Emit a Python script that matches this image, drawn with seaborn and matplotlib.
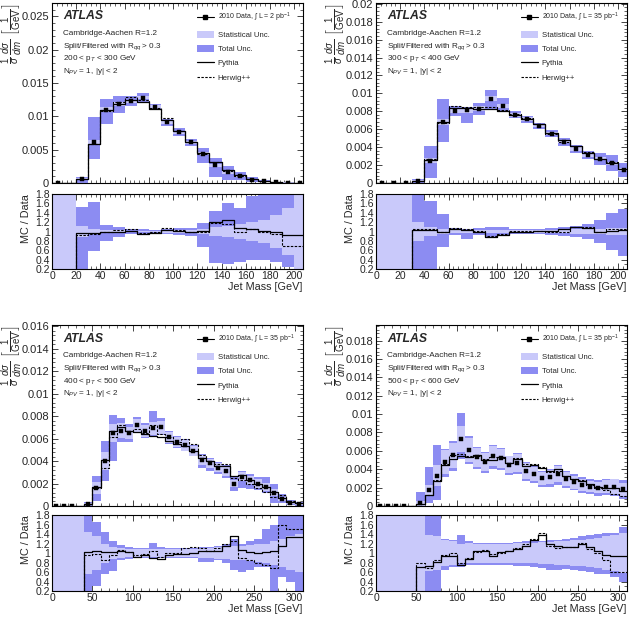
import numpy as np
import matplotlib
matplotlib.use("Agg")
import matplotlib.pyplot as plt
import seaborn as sns
from matplotlib.lines import Line2D
from matplotlib.patches import Patch
from matplotlib.ticker import MultipleLocator, AutoMinorLocator, FormatStrFormatter

nan = np.nan

# ---- 200 < pT < 300 GeV (bins of 10 GeV, 0-210) ----
data_1 = [0, nan, 0.0006, 0.0061, 0.011, 0.01185, 0.01225, 0.0128, 0.0114, 0.0091, 0.0076,
          0.0061, 0.0044, 0.00265, 0.0016, 0.0011, 0.0005, 0.00025, 0.0001, 0.00005, 0.00002]
pythia_1 = [0, 0, 0.97, 0.97, 1.0, 1.0, 1.02, 0.95, 0.97, 1.03, 1.02, 1.0, 1.02, 1.2, 1.25,
            1.08, 1.05, 1.02, 1.0, 0.93, 0.93]
herwig_1 = [0, 0, 0.93, 0.95, 0.98, 1.03, 1.05, 0.97, 0.98, 1.07, 1.03, 1.0, 1.0, 1.18, 1.15,
            1.0, 1.05, 1.0, 0.95, 0.7, 0.7]
stat_1 = [9, 9, 0.12, 0.05, 0.03, 0.03, 0.02, 0.02, 0.02, 0.03, 0.03, 0.03, 0.05, 0.1, 0.12,
          0.15, 0.2, 0.25, 0.35, 0.5, 0.8]
totup_1 = [9, 9, 0.52, 0.62, 0.14, 0.1, 0.06, 0.05, 0.04, 0.06, 0.08, 0.08, 0.18, 0.44, 0.6,
           0.5, 0.75, 0.8, 0.8, 0.8, 0.8]
totdn_1 = [9, 9, 0.9, 0.42, 0.2, 0.12, 0.06, 0.05, 0.04, 0.06, 0.08, 0.1, 0.32, 0.67, 0.7,
           0.65, 0.6, 0.6, 0.65, 0.75, 0.8]

# ---- 300 < pT < 400 GeV ----
data_2 = [0, 0, 0, 0.00026, 0.0025, 0.0068, 0.0080, 0.0081, 0.0083, 0.0094, 0.0086, 0.0076,
          0.0071, 0.0064, 0.0055, 0.0046, 0.0038, 0.0031, 0.0027, 0.0022, 0.0015]
pythia_2 = [0, 0, 0, 1.03, 1.03, 1.0, 1.05, 1.03, 1.0, 0.88, 0.93, 1.0, 1.0, 1.02, 1.02, 1.05,
            1.1, 1.07, 1.0, 1.02, 1.03]
herwig_2 = [0, 0, 0, 1.06, 1.05, 0.98, 1.07, 1.05, 1.02, 0.9, 0.95, 1.02, 1.02, 1.02, 1.0, 1.0,
            1.1, 1.1, 1.0, 1.05, 1.05]
stat_2 = [9, 9, 9, 0.2, 0.1, 0.05, 0.03, 0.03, 0.03, 0.03, 0.03, 0.03, 0.03, 0.03, 0.03, 0.04,
          0.05, 0.05, 0.06, 0.07, 0.08]
totup_2 = [9, 9, 9, 0.8, 0.65, 0.38, 0.07, 0.05, 0.08, 0.1, 0.1, 0.05, 0.05, 0.05, 0.07, 0.1,
           0.12, 0.15, 0.25, 0.4, 0.47]
totdn_2 = [9, 9, 9, 0.8, 0.8, 0.32, 0.07, 0.17, 0.08, 0.12, 0.08, 0.05, 0.05, 0.05, 0.07, 0.1,
           0.12, 0.15, 0.25, 0.4, 0.52]

# ---- 400 < pT < 500 GeV (0-310) ----
data_3 = [0, 0, 0, nan, 0.0002, 0.0016, 0.0040, 0.0065, 0.0067, 0.0065, 0.0072, 0.0067, 0.0069,
          0.0070, 0.0061, 0.0057, 0.0054, 0.0049, 0.0041, 0.0038, 0.0034, 0.0031, 0.0020, 0.0026,
          0.0023, 0.0020, 0.0017, 0.0012, 0.0006, 0.0003, 0.0002]
pythia_3 = [0, 0, 0, 0, 1.03, 1.05, 1.02, 1.03, 1.05, 1.02, 0.92, 0.95, 0.9, 0.88, 0.95, 0.97,
            0.98, 1.0, 1.05, 1.05, 1.05, 1.15, 1.35, 1.07, 1.02, 1.0, 1.02, 1.05, 1.15, 1.33, 1.33]
herwig_3 = [0, 0, 0, 0, 0.95, 0.98, 0.85, 0.95, 1.07, 1.02, 0.95, 0.97, 1.05, 0.92, 1.0, 1.0,
            1.1, 1.12, 1.1, 1.05, 1.1, 1.2, 1.25, 0.9, 0.85, 0.8, 0.75, 0.68, 1.6, 1.5, 1.5]
stat_3 = [9, 9, 9, 9, 0.45, 0.35, 0.2, 0.12, 0.1, 0.08, 0.08, 0.08, 0.08, 0.08, 0.08, 0.08,
          0.09, 0.09, 0.1, 0.1, 0.12, 0.13, 0.15, 0.15, 0.16, 0.18, 0.2, 0.25, 0.3, 0.35, 0.4]
totup_3 = [9, 9, 9, 9, 0.8, 0.65, 0.45, 0.25, 0.17, 0.12, 0.1, 0.1, 0.22, 0.12, 0.1, 0.1, 0.1,
           0.1, 0.12, 0.13, 0.15, 0.18, 0.3, 0.2, 0.25, 0.3, 0.5, 0.6, 0.8, 0.8, 0.8]
totdn_3 = [9, 9, 9, 9, 0.8, 0.7, 0.45, 0.38, 0.15, 0.12, 0.1, 0.1, 0.1, 0.1, 0.1, 0.1, 0.1,
           0.1, 0.18, 0.18, 0.15, 0.2, 0.35, 0.4, 0.35, 0.3, 0.3, 0.8, 0.5, 0.6, 0.8]

# ---- 500 < pT < 600 GeV ----
data_4 = [0, 0, 0, 0, nan, 0.0003, 0.0017, 0.0033, 0.0048, 0.0055, 0.0073, 0.0061, 0.0053,
          0.0048, 0.0054, 0.0052, 0.0045, 0.0047, 0.0038, 0.0035, 0.0030, 0.0032, 0.0035, 0.0029,
          0.0026, 0.0023, 0.0021, 0.0020, 0.0021, 0.0021, 0.0018]
pythia_4 = [0, 0, 0, 0, 0, 0.7, 0.72, 0.82, 0.93, 0.93, 0.75, 0.87, 1.05, 1.05, 0.93, 1.02,
            1.05, 1.08, 1.15, 1.27, 1.38, 1.2, 1.15, 1.13, 1.13, 1.18, 1.12, 1.05, 0.95, 0.93, 0.93]
herwig_4 = [0, 0, 0, 0, 0, 0.78, 0.68, 0.85, 0.95, 1.0, 0.78, 0.9, 1.03, 1.07, 0.98, 1.0,
            1.05, 1.1, 1.2, 1.3, 1.43, 1.15, 1.1, 1.12, 1.12, 1.22, 1.08, 1.0, 0.85, 0.6, 0.6]
stat_4 = [9, 9, 9, 9, 9, 0.85, 0.37, 0.35, 0.27, 0.25, 0.2, 0.22, 0.2, 0.2, 0.2, 0.2, 0.2,
          0.21, 0.22, 0.22, 0.23, 0.24, 0.25, 0.26, 0.27, 0.28, 0.3, 0.32, 0.35, 0.38, 0.42]
totup_4 = [9, 9, 9, 9, 9, 4.0, 1.5, 1.0, 0.3, 0.28, 0.38, 0.25, 0.22, 0.22, 0.22, 0.22, 0.22,
           0.23, 0.25, 0.25, 0.26, 0.27, 0.28, 0.3, 0.32, 0.35, 0.38, 0.4, 0.42, 0.42, 0.55]
totdn_4 = [9, 9, 9, 9, 9, 0.85, 0.8, 0.8, 0.35, 0.3, 0.3, 0.25, 0.25, 0.25, 0.25, 0.25, 0.25,
           0.27, 0.28, 0.3, 0.32, 0.35, 0.35, 0.33, 0.35, 0.38, 0.4, 0.45, 0.45, 0.5, 0.6]

pt_labels = ["200 < p$_{T}$ < 300 GeV", "300 < p$_{T}$ < 400 GeV",
             "400 < p$_{T}$ < 500 GeV", "500 < p$_{T}$ < 600 GeV"]
lumi_labels = ["2", "35", "35", "35"]

STAT_COL = "#c9c9fa"
TOT_COL = "#8c8cf2"
HERWIG_LS = (0, (2.2, 1.3))

sns.set_style("ticks")
plt.rcParams.update({
    "xtick.direction": "in", "ytick.direction": "in",
    "xtick.top": True, "ytick.right": True,
    "xtick.major.size": 4, "ytick.major.size": 4,
    "xtick.minor.size": 2, "ytick.minor.size": 2,
    "xtick.major.width": 0.6, "ytick.major.width": 0.6,
    "xtick.minor.width": 0.5, "ytick.minor.width": 0.5,
    "axes.linewidth": 0.8, "axes.edgecolor": "black",
    "mathtext.fontset": "custom",
    "mathtext.rm": "Liberation Sans",
    "mathtext.it": "Liberation Sans:italic",
    "mathtext.bf": "Liberation Sans:bold",
})
plt.rcParams["font.family"] = ["Liberation Sans", "DejaVu Sans"]


def steps(ax, edges, vals, **kw):
    y = np.append(vals, vals[-1])
    sns.lineplot(x=edges, y=y, drawstyle="steps-post", estimator=None, sort=False,
                 ax=ax, legend=False, **kw)


def draw_panel(ax, rax, data, pythia, herwig, stat, totup, totdn, xmax, ymax, ymajor,
               xmajor, pt_label, lumi):
    data = np.array(data, dtype=float)
    pythia = np.array(pythia, dtype=float)
    herwig = np.array(herwig, dtype=float)
    stat = np.array(stat, dtype=float)
    totup = np.array(totup, dtype=float)
    totdn = np.array(totdn, dtype=float)
    nb = len(data)
    edges = np.arange(nb + 1) * 10.0
    centers = edges[:-1] + 5.0
    d0 = np.nan_to_num(data)

    # bandas del panel principal
    lo = np.clip(data * (1 - totdn), 0, None)
    ax.bar(centers, data * (1 + totup) - lo, bottom=lo, width=10, color=TOT_COL, linewidth=0)
    lo = np.clip(data * (1 - stat), 0, None)
    ax.bar(centers, data * (1 + stat) - lo, bottom=lo, width=10, color=STAT_COL, linewidth=0)

    steps(ax, edges, d0 * pythia, color="black", linewidth=0.9)
    steps(ax, edges, d0 * herwig, color="black", linewidth=0.8, linestyle=HERWIG_LS)
    sns.scatterplot(x=centers, y=data, marker="s", s=11, color="black", edgecolor="black",
                    linewidth=0.3, ax=ax, zorder=5)

    ax.set_xlim(0, xmax)
    ax.set_ylim(0, ymax)
    ax.xaxis.set_major_locator(MultipleLocator(xmajor))
    ax.xaxis.set_minor_locator(AutoMinorLocator(5))
    ax.yaxis.set_major_locator(MultipleLocator(ymajor))
    ax.yaxis.set_minor_locator(AutoMinorLocator(5))
    ax.yaxis.set_major_formatter(FormatStrFormatter("%g"))
    ax.tick_params(labelbottom=False, labelsize=8, pad=2)
    ax.set_ylabel(r"$\frac{1}{\sigma}\,\frac{d\sigma}{dm}\ \left[\frac{1}{\mathrm{GeV}}\right]$",
                  fontsize=10, loc="top")
    ax.yaxis.set_label_coords(-0.112, 1.0)

    ax.text(0.045, 0.925, "ATLAS", transform=ax.transAxes, fontsize=8.8, fontweight="bold",
            fontstyle="italic", va="center")
    info = ["Cambridge-Aachen R=1.2", "Split/Filtered with R$_{qq}$ > 0.3", pt_label,
            "N$_{PV}$ = 1, |y| < 2"]
    for i, t in enumerate(info):
        ax.text(0.045, 0.83 - i * 0.07, t, transform=ax.transAxes, fontsize=5.9, va="center")

    handles = [Line2D([], [], color="black", marker="s", markersize=3, linewidth=0.8),
               Patch(facecolor=STAT_COL, linewidth=0),
               Patch(facecolor=TOT_COL, linewidth=0),
               Line2D([], [], color="black", linewidth=0.9),
               Line2D([], [], color="black", linewidth=0.8, linestyle=HERWIG_LS)]
    labels = [r"2010 Data, $\int$ L = " + lumi + " pb$^{-1}$", "Statistical Unc.",
              "Total Unc.", "Pythia", "Herwig++"]
    leg = ax.legend(handles, labels, loc="upper left", bbox_to_anchor=(0.555, 0.985),
                    frameon=False, fontsize=5.6, handlelength=2.2, handleheight=1.0,
                    handletextpad=0.5, labelspacing=0.8, borderpad=0.2)
    leg.get_texts()[0].set_fontsize(5.0)

    # panel de cociente
    rax.bar(centers, totup + totdn, bottom=1 - totdn, width=10, color=TOT_COL, linewidth=0)
    rax.bar(centers, 2 * stat, bottom=1 - stat, width=10, color=STAT_COL, linewidth=0)
    steps(rax, edges, pythia, color="black", linewidth=0.9)
    steps(rax, edges, herwig, color="black", linewidth=0.8, linestyle=HERWIG_LS)
    rax.set_xlim(0, xmax)
    rax.set_ylim(0.2, 1.8)
    rax.xaxis.set_major_locator(MultipleLocator(xmajor))
    rax.xaxis.set_minor_locator(AutoMinorLocator(5))
    rax.yaxis.set_major_locator(MultipleLocator(0.2))
    rax.yaxis.set_minor_locator(AutoMinorLocator(2))
    rax.yaxis.set_major_formatter(FormatStrFormatter("%g"))
    rax.tick_params(labelsize=7.5, pad=1.5)
    rax.set_ylabel("MC / Data", fontsize=7.8, loc="top")
    rax.yaxis.set_label_coords(-0.085, 1.0)
    rax.set_xlabel("Jet Mass [GeV]", fontsize=7.8, loc="right", labelpad=1)


fig = plt.figure(figsize=(6.36, 6.34), dpi=100)
lefts = [0.0818, 0.5912]
width = 0.394
main_boxes = [(lefts[0], 0.7114, 0.284), (lefts[1], 0.7114, 0.284),
              (lefts[0], 0.2019, 0.2855), (lefts[1], 0.2019, 0.2855)]
ratio_boxes = [(0.5757, 0.1183), (0.5757, 0.1183), (0.0678, 0.1199), (0.0678, 0.1199)]

panels = [
    (data_1, pythia_1, herwig_1, stat_1, totup_1, totdn_1, 207, 0.027, 0.005, 20),
    (data_2, pythia_2, herwig_2, stat_2, totup_2, totdn_2, 207, 0.0201, 0.002, 20),
    (data_3, pythia_3, herwig_3, stat_3, totup_3, totdn_3, 310, 0.0161, 0.002, 50),
    (data_4, pythia_4, herwig_4, stat_4, totup_4, totdn_4, 310, 0.0197, 0.002, 50),
]

for i, p in enumerate(panels):
    l, b, h = main_boxes[i]
    rb, rh = ratio_boxes[i]
    ax = fig.add_axes([l, b, width, h])
    rax = fig.add_axes([l, rb, width, rh])
    draw_panel(ax, rax, *p, pt_labels[i], lumi_labels[i])

fig.savefig("out.png", dpi=100)
